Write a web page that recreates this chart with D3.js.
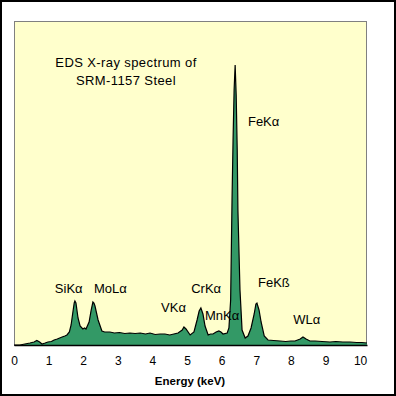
<!DOCTYPE html>
<html>
<head>
<meta charset="utf-8">
<script src="https://cdn.jsdelivr.net/npm/d3@7"></script>
<style>
  body { margin: 0; background: #fff; }
  text { font-family: "Liberation Sans", Arial, sans-serif; }
</style>
</head>
<body>
<div id="chart"></div>
<script>
// spectrum: energy (keV) and counts (relative)
var energy = [0, 0.17, 0.46, 0.58, 0.66, 0.74, 0.81, 0.9, 0.98, 1.08, 1.16, 1.25, 1.39, 1.47, 1.53, 1.6, 1.65, 1.71, 1.74, 1.76, 1.79, 1.85, 1.91, 1.99, 2.04, 2.08, 2.17, 2.23, 2.28, 2.31, 2.34, 2.43, 2.54, 2.62, 2.77, 2.9, 3.05, 3.2, 3.35, 3.5, 3.65, 3.8, 3.93, 4.08, 4.22, 4.36, 4.5, 4.62, 4.74, 4.86, 4.91, 4.97, 5.09, 5.2, 5.29, 5.35, 5.4, 5.46, 5.52, 5.61, 5.68, 5.75, 5.84, 5.92, 5.98, 6.04, 6.16, 6.21, 6.26, 6.3, 6.33, 6.36, 6.39, 6.42, 6.45, 6.47, 6.53, 6.59, 6.68, 6.76, 6.85, 6.94, 6.99, 7.02, 7.08, 7.14, 7.23, 7.34, 7.5, 7.69, 7.85, 8.0, 8.12, 8.27, 8.35, 8.44, 8.55, 8.7, 8.9, 9.13, 9.3, 9.5, 9.71, 9.9, 10.05, 10.2];
var counts = [0, 0, 20, 30, 45, 30, 10, 20, 30, 35, 50, 60, 80, 90, 100, 130, 200, 350, 420, 440, 420, 270, 190, 160, 170, 160, 230, 350, 430, 420, 390, 250, 140, 130, 130, 120, 125, 115, 120, 115, 120, 110, 120, 105, 110, 110, 100, 110, 120, 150, 180, 160, 100, 130, 250, 340, 370, 310, 190, 100, 110, 110, 130, 140, 130, 110, 120, 170, 450, 1450, 2050, 2550, 2800, 2500, 1950, 1350, 550, 150, 70, 90, 170, 310, 410, 420, 350, 230, 90, 50, 45, 40, 35, 40, 40, 60, 80, 60, 40, 40, 35, 30, 35, 30, 30, 25, 25, 20];

var xTicks = [0, 1, 2, 3, 4, 5, 6, 7, 8, 9, 10];

var peakNames = ["SiKα", "MoLα", "VKα", "CrKα", "MnKα", "FeKα", "FeKß", "WLα"];
var peakEnergy = [1.18, 2.31, 4.25, 5.12, 5.52, 6.76, 7.05, 8.07];
var peakLabelCounts = [520, 520, 330, 520, 250, 2190, 580, 210];

var titleLines = ["EDS X-ray spectrum of", "SRM-1157 Steel"];

var width = 396, height = 396;
var plot = { left: 14, top: 21, right: 367, bottom: 345 };

var svg = d3.select("#chart").append("svg")
    .attr("width", width)
    .attr("height", height);

svg.append("rect")
    .attr("x", 1).attr("y", 1)
    .attr("width", width - 2).attr("height", height - 2)
    .attr("fill", "#fff")
    .attr("stroke", "#000")
    .attr("stroke-width", 2);

svg.append("rect")
    .attr("x", plot.left + 0.5).attr("y", plot.top + 0.5)
    .attr("width", plot.right - plot.left - 1).attr("height", plot.bottom - plot.top)
    .attr("fill", "#ffffcc")
    .attr("stroke", "#808080");

var x = d3.scaleLinear().domain([0, 10.2]).range([plot.left, plot.right]);
var y = d3.scaleLinear().domain([0, 3240]).range([plot.bottom, plot.top]);

var data = energy.map(function(e, i) { return { e: e, c: counts[i] }; });

var area = d3.area()
    .x(function(d) { return x(d.e); })
    .y0(y(0))
    .y1(function(d) { return y(d.c); });

var line = d3.line()
    .x(function(d) { return x(d.e); })
    .y(function(d) { return y(d.c); });

svg.append("path")
    .datum(data)
    .attr("d", area)
    .attr("fill", "#339966");

svg.append("path")
    .datum(data)
    .attr("d", line)
    .attr("fill", "none")
    .attr("stroke", "#000")
    .attr("stroke-width", 1.2);

// axis along the bottom, no tick marks
var axis = svg.append("g")
    .attr("transform", "translate(0," + plot.bottom + ")")
    .call(d3.axisBottom(x).tickValues(xTicks).tickSize(0).tickPadding(11).tickFormat(d3.format("d")));
axis.select(".domain").attr("stroke", "#000").attr("stroke-width", 1.5);
axis.selectAll("text")
    .attr("font-size", 12)
    .attr("font-family", "Liberation Sans, Arial, sans-serif")
    .attr("fill", "#000");

svg.append("text")
    .attr("x", 190).attr("y", 385)
    .attr("text-anchor", "middle")
    .attr("font-size", 11.5)
    .attr("font-weight", "bold")
    .text("Energy (keV)");

svg.selectAll(".title")
    .data(titleLines)
    .enter().append("text")
    .attr("class", "title")
    .attr("x", 126)
    .attr("y", function(d, i) { return 67 + i * 18; })
    .attr("text-anchor", "middle")
    .attr("font-size", 13)
    .attr("letter-spacing", 0.4)
    .text(function(d) { return d; });

svg.selectAll(".peak")
    .data(peakNames)
    .enter().append("text")
    .attr("class", "peak")
    .attr("x", function(d, i) { return x(peakEnergy[i]); })
    .attr("y", function(d, i) { return y(peakLabelCounts[i]); })
    .attr("font-size", 13)
    .text(function(d) { return d; });
</script>
</body>
</html>
